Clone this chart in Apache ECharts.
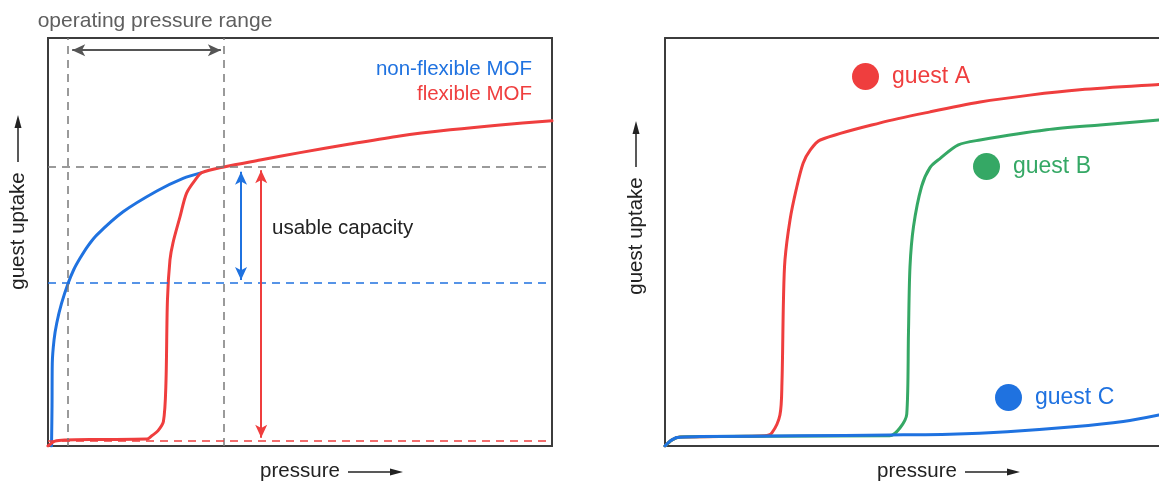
<!DOCTYPE html>
<html>
<head>
<meta charset="utf-8">
<script src="https://cdn.jsdelivr.net/npm/echarts@6/dist/echarts.min.js"></script>
<style>
  html, body { margin: 0; padding: 0; background: #fff; }
  #chart { width: 1159px; height: 482px; }
</style>
</head>
<body>
<div id="chart"></div>
<script>
// Both panels use a relative scale: pressure 0–100 along x, guest uptake 0–100 along y.

// Left panel: isotherms of a rigid and a flexible framework
const nonFlexibleMOF = [[0.7,0],[0.8,10],[0.85,20.3],[1.2,26],[1.73,30.1],[2.7,35],[4.03,40],[5.1,43.2],[6.35,46],[7.9,49],[9.66,51.7],[14.9,57.4],[21.6,62.5],[26.8,65.6],[30.5,67]];
const flexibleMOF = [[0,0],[1.4,1.2],[3.4,1.5],[10.3,1.6],[19.6,1.7],[20.6,2.5],[21.8,3.7],[22.9,6],[23.4,15.4],[23.7,35.8],[24.2,45.6],[24.8,49.8],[26.2,56.2],[27.5,62],[29.5,65.7],[30.5,67],[34.9,68.4],[42.1,70.1],[50,71.9],[59.9,74],[69.8,76],[79.8,77.5],[89.7,78.7],[100,79.7]];

// Operating window and the uptake levels at its bounds
const operatingPressure = [4.0, 34.9];
const uptakeAtHighP = 68.4;
const uptakeAtLowP = { nonFlexible: 40.0, flexible: 1.35 };

// Right panel: gate-opening isotherms of three guests
const guestA = [[0,0],[1.4,1.5],[3,2.2],[10.9,2.3],[19.8,2.5],[21.2,3.2],[22.8,7.6],[23.2,15.4],[23.5,35.8],[23.8,45.6],[24.8,55.4],[26,62.7],[27.4,69.3],[28.8,72.5],[30.8,75],[42.7,79.2],[52.6,81.9],[62.5,84.3],[72.4,86],[82.3,87.3],[98,88.6],[100,88.7]];
const guestB = [[0,0],[1.4,1.5],[3,2.2],[20,2.4],[44.6,2.5],[46.6,4.4],[47.96,7.8],[48.3,27.7],[48.6,43.9],[49.3,53.8],[50.9,63.6],[52.6,68.3],[54.6,70.5],[58.2,73.8],[62.5,75],[75.7,77.5],[86.3,78.7],[98,79.9],[100,80]];
const guestC = [[0,0],[1,1.2],[2.4,2.1],[6.9,2.3],[26.8,2.5],[44.6,2.7],[56.5,2.9],[67.9,3.5],[81,4.7],[90.9,6],[98,7.6],[100,8.3]];

const BLUE = '#1f72e0', RED = '#ef3e3e', GREEN = '#35a865';
const GREY = '#7a7a7a', DARK = '#555555', INK = '#222222', FRAME = '#3c3c3c';
const FONT = '"Liberation Sans", Arial, Helvetica, sans-serif';

const chart = echarts.init(document.getElementById('chart'), null, { renderer: 'canvas' });

function axis(i, max, lineShow, position) {
  return {
    type: 'value', gridIndex: i, min: 0, max, position,
    axisLine: { show: lineShow, onZero: false, lineStyle: { color: FRAME, width: 2 } },
    axisTick: { show: false }, axisLabel: { show: false }, splitLine: { show: false }
  };
}

function curve(name, data, color, xi, yi, extra) {
  return Object.assign({
    name, type: 'line', data, xAxisIndex: xi, yAxisIndex: yi,
    showSymbol: false, symbol: 'none', smooth: 0.3, silent: true,
    lineStyle: { color, width: 3, join: 'round', cap: 'round' },
    itemStyle: { color }
  }, extra || {});
}

function dashed(a, b, color) {
  return [
    { coord: a, symbol: 'none', lineStyle: { color, width: 1.5, type: [8, 6] } },
    { coord: b, symbol: 'none' }
  ];
}
function twoHeaded(a, b, color) {
  return [
    { coord: a, symbol: 'arrow', symbolSize: [9, 13], lineStyle: { color, width: 2, type: 'solid' } },
    { coord: b, symbol: 'arrow', symbolSize: [9, 13] }
  ];
}

// Decorative axis-title arrows
function hArrow(x1, x2, y) {
  return [
    { type: 'line', shape: { x1, y1: y, x2: x2 - 10, y2: y }, style: { stroke: INK, lineWidth: 1.5 } },
    { type: 'polygon', shape: { points: [[x2, y], [x2 - 13, y - 3.5], [x2 - 13, y + 3.5]] }, style: { fill: INK } }
  ];
}
function vArrow(x, y1, y2) {
  return [
    { type: 'line', shape: { x1: x, y1, x2: x, y2: y2 + 10 }, style: { stroke: INK, lineWidth: 1.5 } },
    { type: 'polygon', shape: { points: [[x, y2], [x - 3.5, y2 + 13], [x + 3.5, y2 + 13]] }, style: { fill: INK } }
  ];
}
function label(text, x, y, color, align, size, rot) {
  return {
    type: 'text', x, y, rotation: rot || 0, silent: true,
    style: { text, fill: color, fontSize: size || 20.5, fontFamily: FONT, align: align || 'center', verticalAlign: 'middle' }
  };
}
function guestLegend(name, color, left, top) {
  return {
    data: [{ name, icon: 'circle' }], left, top, padding: 0,
    itemWidth: 27, itemHeight: 27, selectedMode: false,
    textStyle: { color, fontSize: 23, fontFamily: FONT, padding: [0, 0, 0, 8] }
  };
}

const [pLo, pHi] = operatingPressure;

const option = {
  animation: false,
  backgroundColor: '#ffffff',
  textStyle: { fontFamily: FONT },
  grid: [
    { left: 48, top: 38, width: 504, height: 408, show: true, borderColor: FRAME, borderWidth: 2, backgroundColor: 'transparent' },
    // right panel runs past the page edge; its frame is drawn by the axis lines
    { left: 665, top: 38, width: 494, height: 408 }
  ],
  xAxis: [
    axis(0, 100, false, 'bottom'),
    axis(1, 98, true, 'bottom'),
    axis(1, 98, true, 'top')
  ],
  yAxis: [
    axis(0, 100, false, 'left'),
    axis(1, 100, true, 'left')
  ],
  legend: [
    guestLegend('guest A', RED, 852, 63),
    guestLegend('guest B', GREEN, 973, 153),
    guestLegend('guest C', BLUE, 995, 384)
  ],
  series: [
    curve('non-flexible MOF', nonFlexibleMOF, BLUE, 0, 0),
    curve('flexible MOF', flexibleMOF, RED, 0, 0, {
      markLine: {
        silent: true, symbol: 'none', animation: false,
        label: { show: false },
        emphasis: { disabled: true },
        data: [
          dashed([pLo, 0], [pLo, 100], GREY),
          dashed([pHi, 0], [pHi, 100], GREY),
          dashed([0, uptakeAtHighP], [100, uptakeAtHighP], GREY),
          dashed([0, uptakeAtLowP.nonFlexible], [100, uptakeAtLowP.nonFlexible], BLUE),
          dashed([0, uptakeAtLowP.flexible], [100, uptakeAtLowP.flexible], RED),
          twoHeaded([pLo + 0.8, 97], [pHi - 0.6, 97], DARK),
          twoHeaded([38.3, uptakeAtLowP.nonFlexible + 0.7], [38.3, uptakeAtHighP - 1.2], BLUE),
          twoHeaded([42.3, uptakeAtLowP.flexible + 0.7], [42.3, uptakeAtHighP - 0.8], RED)
        ]
      }
    }),
    curve('guest A', guestA, RED, 1, 1),
    curve('guest B', guestB, GREEN, 1, 1),
    curve('guest C', guestC, BLUE, 1, 1)
  ],
  graphic: [
    label('operating pressure range', 155, 21, '#5f5f5f', 'center', 21),
    label('non-flexible MOF', 532, 69, BLUE, 'right'),
    label('flexible MOF', 532, 94, RED, 'right'),
    label('usable capacity', 272, 228, INK, 'left'),
    label('pressure', 300, 471, INK),
    ...hArrow(348, 403, 472),
    label('pressure', 917, 471, INK),
    ...hArrow(965, 1020, 472),
    label('guest uptake', 18, 231, INK, 'center', 20.5, Math.PI / 2),
    ...vArrow(18, 162, 115),
    label('guest uptake', 636, 236, INK, 'center', 20.5, Math.PI / 2),
    ...vArrow(636, 167, 121)
  ]
};

chart.setOption(option);
</script>
</body>
</html>
